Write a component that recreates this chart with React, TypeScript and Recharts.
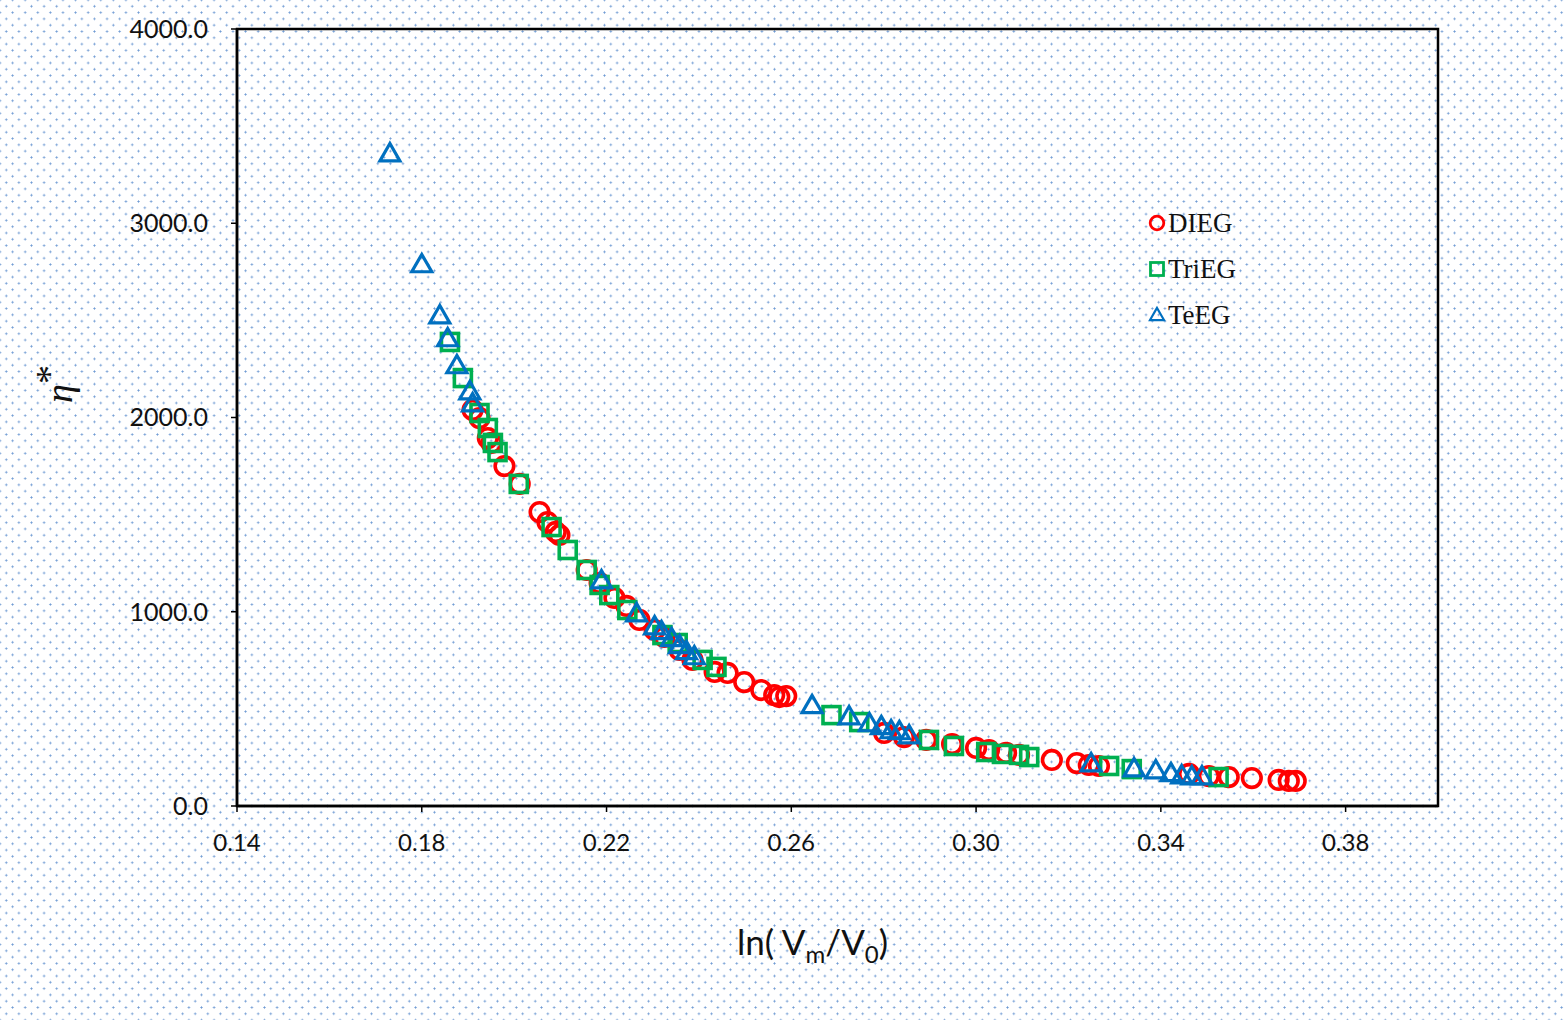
import {
  ScatterChart,
  Scatter,
  XAxis,
  YAxis,
  ReferenceArea,
} from "recharts";

// ln(Vm/V0) vs eta* for three glycols
const diegX = [
  0.191, 0.1925, 0.1943, 0.1951, 0.1979, 0.2012, 0.2055, 0.2072, 0.209, 0.2098,
  0.2157, 0.2185, 0.2217, 0.2243, 0.2271, 0.2304, 0.2325, 0.2358, 0.2386, 0.2434,
  0.2462, 0.2498, 0.2535, 0.2563, 0.2574, 0.2589, 0.2801, 0.2844, 0.2892, 0.2948,
  0.3, 0.3028, 0.3065, 0.3093, 0.3164, 0.3218, 0.3244, 0.3266, 0.3461, 0.3504,
  0.3547, 0.3597, 0.3655, 0.3677, 0.3692,
];
const diegY = [
  2039, 1997, 1894, 1869, 1750, 1658, 1513, 1462, 1411, 1395,
  1215, 1148, 1071, 1030, 958, 906, 870, 803, 752, 690,
  685, 638, 597, 571, 561, 566, 376, 355, 340, 319,
  299, 288, 273, 263, 237, 221, 211, 206, 165, 154,
  149, 144, 134, 129, 129,
];

const triegX = [
  0.1861, 0.1889, 0.1925, 0.1943, 0.1954, 0.1964, 0.201, 0.2081, 0.2116, 0.2157,
  0.2185, 0.2206, 0.2245, 0.2321, 0.2354, 0.2408, 0.2438, 0.2687, 0.2747, 0.2898,
  0.2952, 0.3022, 0.3056, 0.3093, 0.3115, 0.3288, 0.3337, 0.3525,
];
const triegY = [
  2389, 2203, 2023, 1946, 1869, 1822, 1658, 1436, 1318, 1215,
  1138, 1086, 1009, 880, 839, 752, 716, 468, 432, 340,
  309, 278, 268, 263, 252, 206, 190, 149,
];

const teegX = [
  0.1731, 0.18, 0.1839, 0.1856, 0.1876, 0.1904, 0.191, 0.2189, 0.2265, 0.2304,
  0.2319, 0.2341, 0.2358, 0.2373, 0.239, 0.2645, 0.2725, 0.2769, 0.2795, 0.2816,
  0.2834, 0.2855, 0.3249, 0.3342, 0.3389, 0.3422, 0.3445, 0.3467, 0.3489,
];
const teegY = [
  3351, 2780, 2517, 2399, 2260, 2126, 2064, 1153, 983, 916,
  891, 855, 819, 788, 762, 510, 453, 417, 402, 381,
  376, 355, 211, 185, 175, 160, 149, 144, 144,
];

const xTicks = [0.14, 0.18, 0.22, 0.26, 0.3, 0.34, 0.38];
const yTicks = [0, 1000, 2000, 3000, 4000];

const seriesNames = ["DIEG", "TriEG", "TeEG"];

const RED = "#ff0000";
const GREEN = "#00b050";
const BLUE = "#0070c0";

const zip = (xs: number[], ys: number[]) => xs.map((x, i) => ({ x, y: ys[i] }));

const dieg = zip(diegX, diegY);
const trieg = zip(triegX, triegY);
const teeg = zip(teegX, teegY);

function circleShape(p: any) {
  return <circle cx={p.cx} cy={p.cy} r={9.3} fill="none" stroke={RED} strokeWidth={3.6} />;
}

function squareShape(p: any) {
  return (
    <rect x={p.cx - 8.5} y={p.cy - 8.5} width={17} height={17} fill="none" stroke={GREEN} strokeWidth={3.6} />
  );
}

function triPoints(cx: number, cy: number, s: number) {
  const h = s * 0.866;
  return `${cx},${cy - (2 * h) / 3} ${cx - s / 2},${cy + h / 3} ${cx + s / 2},${cy + h / 3}`;
}

function triangleShape(p: any) {
  return <polygon points={triPoints(p.cx, p.cy, 20)} fill="none" stroke={BLUE} strokeWidth={3.2} />;
}

const legendMarkers = [
  <circle cx={10} cy={10} r={6.8} fill="none" stroke={RED} strokeWidth={2.8} />,
  <rect x={3.5} y={3.5} width={13} height={13} fill="none" stroke={GREEN} strokeWidth={2.8} />,
  <polygon points={triPoints(10, 11, 14)} fill="none" stroke={BLUE} strokeWidth={2.2} />,
];

function LegendBox() {
  return (
    <div style={{ position: "absolute", left: 1147, top: 200, width: 140 }}>
      {seriesNames.map((name, i) => (
        <div key={name} style={{ display: "flex", alignItems: "center", height: 46 }}>
          <svg width={20} height={20}>{legendMarkers[i]}</svg>
          <span
            style={{
              fontFamily: "'Liberation Serif', serif",
              fontSize: 27,
              color: "#111",
              marginLeft: 1,
              lineHeight: "46px",
            }}
          >
            {name}
          </span>
        </div>
      ))}
    </div>
  );
}

function XLabel(props: any) {
  const vb = props.viewBox;
  const cx = vb.x + vb.width / 2 - 25;
  return (
    <text
      x={cx}
      y={vb.y + 149}
      textAnchor="middle"
      fontFamily="Lato, 'Open Sans', sans-serif"
      fontSize={35}
      fill="#111"
    >
      <tspan>ln( V</tspan>
      <tspan fontSize={24} dy={8}>m</tspan>
      <tspan dy={-8}>/V</tspan>
      <tspan fontSize={24} dy={8}>0</tspan>
      <tspan dy={-8}>)</tspan>
    </text>
  );
}

function YLabel() {
  return (
    <text
      x={0}
      y={0}
      transform="translate(72, 384) rotate(-90)"
      textAnchor="middle"
      fontFamily="'Liberation Serif', serif"
      fontSize={38}
      fill="#111"
    >
      <tspan fontStyle="italic">η</tspan>
      <tspan dy={-10}>*</tspan>
    </text>
  );
}

const dots = "radial-gradient(circle, #6e9ad3 0.8px, rgba(255,255,255,0) 1.3px)";

export default function App() {
  return (
    <div
      style={{
        position: "absolute",
        left: 0,
        top: 0,
        width: 1566,
        height: 1020,
        backgroundColor: "#fff",
        backgroundImage: `${dots}, ${dots}`,
        backgroundSize: "12.6px 12.6px",
        backgroundPosition: "0 0, 6.3px 6.3px",
      }}
    >
      <ScatterChart
        width={1566}
        height={1020}
        margin={{ top: 29, right: 128, left: 137, bottom: 154 }}
      >
        <XAxis
          type="number"
          dataKey="x"
          domain={[0.14, 0.4]}
          ticks={xTicks}
          interval={0}
          allowDataOverflow
          tickFormatter={(v: number) => v.toFixed(2)}
          height={60}
          tickSize={6}
          tickMargin={22}
          axisLine={{ stroke: "#000", strokeWidth: 2.5 }}
          tickLine={{ stroke: "#000", strokeWidth: 1.5 }}
          tick={{ fill: "#111", fontSize: 24, fontFamily: "Lato, 'Open Sans', sans-serif" }}
          label={<XLabel />}
        />
        <YAxis
          type="number"
          dataKey="y"
          domain={[0, 4000]}
          ticks={yTicks}
          interval={0}
          allowDataOverflow
          tickFormatter={(v: number) => v.toFixed(1)}
          width={100}
          tickSize={6}
          tickMargin={23}
          axisLine={{ stroke: "#000", strokeWidth: 2.5 }}
          tickLine={{ stroke: "#000", strokeWidth: 1.5 }}
          tick={{ fill: "#111", fontSize: 25, fontFamily: "Lato, 'Open Sans', sans-serif" }}
          label={<YLabel />}
        />
        <ReferenceArea
          x1={0.14}
          x2={0.4}
          y1={0}
          y2={4000}
          fill="none"
          stroke="#000"
          strokeWidth={2.5}
          ifOverflow="visible"
        />
        <Scatter name="DIEG" data={dieg} shape={circleShape} isAnimationActive={false} />
        <Scatter name="TriEG" data={trieg} shape={squareShape} isAnimationActive={false} />
        <Scatter name="TeEG" data={teeg} shape={triangleShape} isAnimationActive={false} />
      </ScatterChart>
      <LegendBox />
    </div>
  );
}
